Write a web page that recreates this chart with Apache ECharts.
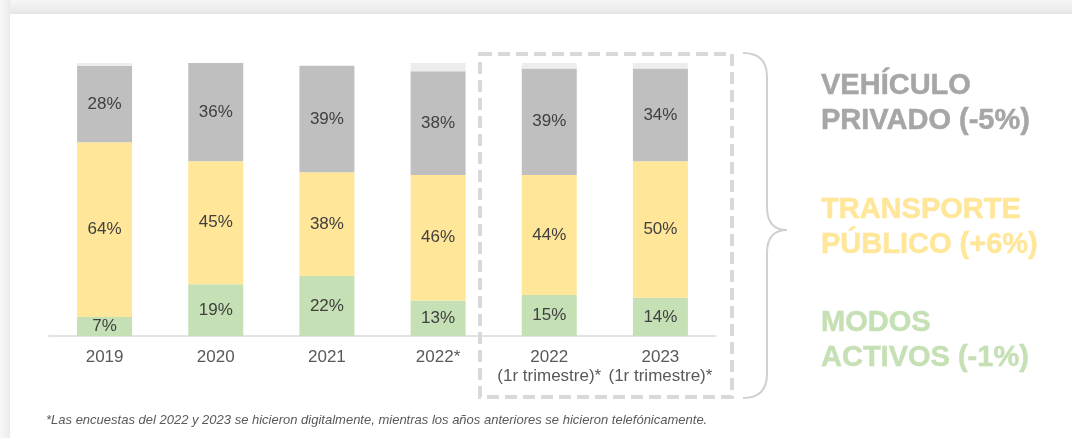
<!DOCTYPE html>
<html>
<head>
<meta charset="utf-8">
<script src="https://cdn.jsdelivr.net/npm/echarts@6/dist/echarts.min.js"></script>
<style>
  html, body { margin: 0; padding: 0; background: #ffffff; }
  #chart { width: 1072px; height: 438px; }
</style>
</head>
<body>
<div id="chart"></div>
<script>
// ---- data ----
const categories = ['2019', '2020', '2021', '2022*', '2022\n(1r trimestre)*', '2023\n(1r trimestre)*'];
const modosActivos = [7, 19, 22, 13, 15, 14];
const transportePublico = [64, 45, 38, 46, 44, 50];
const vehiculoPrivado = [28, 36, 39, 38, 39, 34];
const otros = [1, 0, 0, 3, 2, 2];
const sideLabels = [
  ['VEHÍCULO', 'PRIVADO (-5%)'],
  ['TRANSPORTE', 'PÚBLICO (+6%)'],
  ['MODOS', 'ACTIVOS (-1%)']
];
const footnote = '*Las encuestas del 2022 y 2023 se hicieron digitalmente, mientras los años anteriores se hicieron telefónicamente.';

// ---- styles ----
const FONT = '"Liberation Sans", Arial, sans-serif';
const colGreen = '#c5e0b4';
const colYellow = '#ffe699';
const colGray = '#bfbfbf';
const colOther = '#ededed';
const sideColors = ['#a6a6a6', '#ffe699', '#c5e0b4'];
const sideY = [86, 210, 323];

const chart = echarts.init(document.getElementById('chart'), null, { renderer: 'canvas' });

const labelCfg = {
  show: true,
  position: 'inside',
  formatter: '{c}%',
  color: '#404040',
  fontSize: 17,
  fontFamily: FONT
};

function barSeries(name, data, color, withLabel) {
  return {
    name: name,
    type: 'bar',
    stack: 'total',
    barWidth: 55,
    data: data,
    itemStyle: { color: color },
    label: withLabel ? labelCfg : { show: false },
    emphasis: { disabled: true },
    silent: true
  };
}

const braceStyle = { fill: 'none', stroke: '#d0d0d0', lineWidth: 2 };

function curve(x1, y1, cx, cy, x2, y2) {
  return { type: 'bezierCurve', shape: { x1: x1, y1: y1, cpx1: cx, cpy1: cy, x2: x2, y2: y2 }, style: braceStyle };
}
function seg(x1, y1, x2, y2) {
  return { type: 'line', shape: { x1: x1, y1: y1, x2: x2, y2: y2 }, style: braceStyle };
}

const graphics = [
  // card shadow (top band and left strip)
  {
    type: 'rect', shape: { x: 0, y: 0, width: 1072, height: 14 }, z: -1,
    style: { fill: {
      type: 'linear', x: 0, y: 0, x2: 0, y2: 1,
      colorStops: [{ offset: 0, color: '#f6f6f6' }, { offset: 0.6, color: '#eeeeee' }, { offset: 1, color: '#e5e5e5' }]
    } }
  },
  {
    type: 'rect', shape: { x: 0, y: 0, width: 10, height: 438 }, z: -1,
    style: { fill: {
      type: 'linear', x: 0, y: 0, x2: 1, y2: 0,
      colorStops: [{ offset: 0, color: '#f7f7f7' }, { offset: 0.7, color: '#f0f0f0' }, { offset: 1, color: '#e9e9e9' }]
    } }
  },
  // dashed highlight box
  {
    type: 'rect', shape: { x: 480, y: 54, width: 252, height: 343 },
    style: { fill: 'none', stroke: '#d9d9d9', lineWidth: 4, lineDash: [12, 6] }
  },
  // curly brace
  curve(743, 53, 767, 53, 767, 77),
  seg(767, 77, 767, 207),
  curve(767, 207, 767, 230, 787, 230),
  curve(787, 230, 767, 230, 767, 253),
  seg(767, 253, 767, 374),
  curve(767, 374, 767, 398, 743, 398),
  // footnote
  {
    type: 'text', x: 46, y: 420,
    style: { text: footnote, fill: '#595959', fontStyle: 'italic', fontSize: 13, fontFamily: FONT, verticalAlign: 'middle' }
  }
];

sideLabels.forEach(function (lines, i) {
  graphics.push({
    type: 'text', x: 821, y: sideY[i] - 17.5,
    style: {
      text: lines.join('\n'), fill: sideColors[i],
      stroke: sideColors[i], lineWidth: 0.5,
      fontWeight: 700, fontSize: 29, fontFamily: 'Arial, "Liberation Sans", sans-serif',
      lineHeight: 35, verticalAlign: 'top'
    }
  });
});

chart.setOption({
  animation: false,
  backgroundColor: '#ffffff',
  grid: { left: 49, right: 356, top: 63, bottom: 102, containLabel: false },
  xAxis: {
    type: 'category',
    data: categories,
    axisLine: { lineStyle: { color: '#d9d9d9', width: 1.5 } },
    axisTick: { show: false },
    axisLabel: { color: '#595959', fontSize: 17, fontFamily: FONT, margin: 12, lineHeight: 19, interval: 0 }
  },
  yAxis: { type: 'value', min: 0, max: 100, show: false },
  series: [
    barSeries('Modos activos', modosActivos, colGreen, true),
    barSeries('Transporte público', transportePublico, colYellow, true),
    barSeries('Vehículo privado', vehiculoPrivado, colGray, true),
    barSeries('Otros', otros, colOther, false)
  ],
  graphic: graphics
});
</script>
</body>
</html>
